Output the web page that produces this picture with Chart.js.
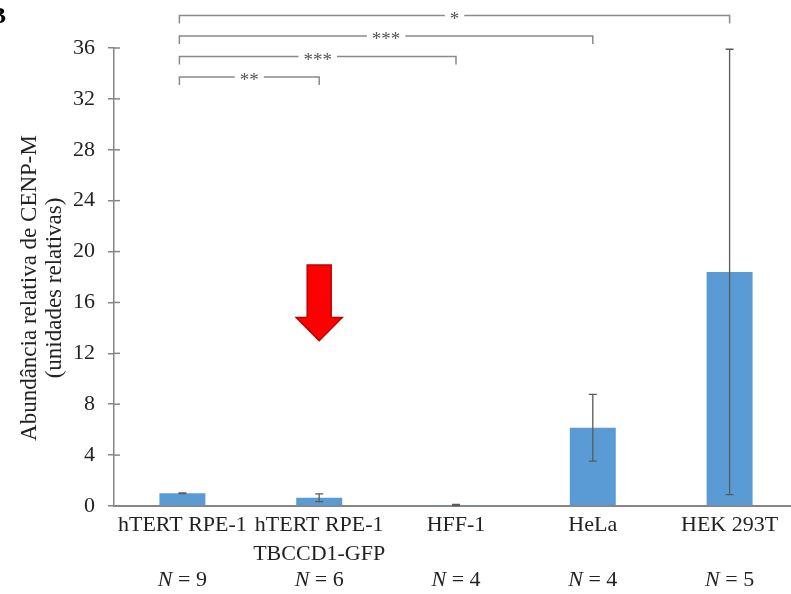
<!DOCTYPE html>
<html>
<head>
<meta charset="utf-8">
<script src="https://cdn.jsdelivr.net/npm/chart.js@4"></script>
<style>
  html, body { margin: 0; padding: 0; background: #fff; overflow: hidden; }
  #wrap { width: 791px; height: 594px; overflow: hidden; position: relative; }
  #cenpChart { display: block; }
</style>
</head>
<body>
<div id="wrap"><canvas id="cenpChart" width="798" height="594"></canvas></div>
<script>
// valores
const cellLines = [['hTERT RPE-1'], ['hTERT RPE-1', 'TBCCD1-GFP'], ['HFF-1'], ['HeLa'], ['HEK 293T']];
const meanAbundance = [1.0, 0.65, 0.08, 6.15, 18.4];
const errorSize = [0.03, 0.3, 0.04, 2.62, 17.5];
const sampleN = [9, 6, 4, 4, 5];
const compFrom = [0, 0, 0, 0];
const compTo = [1, 2, 3, 4];
const compStars = ['**', '***', '***', '*'];
const yTitle = ['Abundância relativa de CENP-M', '(unidades relativas)'];
const arrowCategory = 1;
const arrowTop = 18.95;
const arrowTip = 13.0;
const yMax = 36;
const yStep = 4;

const serif = '"Liberation Serif", "Times New Roman", serif';
const axisGrey = '#868686';

const extrasPlugin = {
    id: 'extras',
    afterDatasetsDraw(chart) {
        const ctx = chart.ctx;
        const x = chart.scales.x;
        const y = chart.scales.y;
        const area = chart.chartArea;

        // marcas das escalas para dentro
        ctx.save();
        ctx.strokeStyle = axisGrey;
        ctx.lineWidth = 1.5;
        for (let v = yStep; v <= yMax; v += yStep) {
            const py = y.getPixelForValue(v);
            ctx.beginPath();
            ctx.moveTo(area.left, py);
            ctx.lineTo(area.left + 6, py);
            ctx.stroke();
        }
        ctx.restore();

        // título do eixo y
        ctx.save();
        ctx.fillStyle = '#222';
        ctx.font = '23px ' + serif;
        ctx.textAlign = 'center';
        ctx.textBaseline = 'middle';
        ctx.translate(30, (area.top + area.bottom) / 2 + 11);
        ctx.rotate(-Math.PI / 2);
        yTitle.forEach((line, i) => ctx.fillText(line, 0, i * 25));
        ctx.restore();

        // barras de erro
        ctx.save();
        ctx.strokeStyle = '#5a5a5a';
        ctx.lineWidth = 1.3;
        meanAbundance.forEach((m, i) => {
            const px = x.getPixelForValue(i);
            const hi = y.getPixelForValue(m + errorSize[i]);
            const lo = y.getPixelForValue(Math.max(m - errorSize[i], 0));
            ctx.beginPath();
            ctx.moveTo(px, hi); ctx.lineTo(px, lo);
            ctx.moveTo(px - 4, hi); ctx.lineTo(px + 4, hi);
            ctx.moveTo(px - 4, lo); ctx.lineTo(px + 4, lo);
            ctx.stroke();
        });
        ctx.restore();

        // seta vermelha
        const ax = x.getPixelForValue(arrowCategory);
        const aTop = y.getPixelForValue(arrowTop);
        const aTip = y.getPixelForValue(arrowTip);
        const headTop = aTip - 23;
        ctx.save();
        ctx.fillStyle = '#ff0000';
        ctx.strokeStyle = '#c00000';
        ctx.lineWidth = 1.5;
        ctx.beginPath();
        ctx.moveTo(ax - 12, aTop);
        ctx.lineTo(ax + 12, aTop);
        ctx.lineTo(ax + 12, headTop);
        ctx.lineTo(ax + 23, headTop);
        ctx.lineTo(ax, aTip);
        ctx.lineTo(ax - 23, headTop);
        ctx.lineTo(ax - 12, headTop);
        ctx.closePath();
        ctx.fill();
        ctx.stroke();
        ctx.restore();

        // colchetes de significância
        ctx.save();
        ctx.strokeStyle = '#8a8a8a';
        ctx.lineWidth = 1.5;
        ctx.font = '19px ' + serif;
        ctx.textAlign = 'center';
        ctx.textBaseline = 'alphabetic';
        compTo.forEach((to, k) => {
            const by = area.top + 29 - k * 20.5;
            const x1 = x.getPixelForValue(compFrom[k]) - 3;
            const x2 = x.getPixelForValue(to);
            ctx.beginPath();
            ctx.moveTo(x1, by + 8); ctx.lineTo(x1, by);
            ctx.lineTo(x2, by); ctx.lineTo(x2, by + 8);
            ctx.stroke();
            const mid = (x1 + x2) / 2;
            const tw = ctx.measureText(compStars[k]).width;
            ctx.fillStyle = '#fff';
            ctx.fillRect(mid - tw / 2 - 5, by - 3, tw + 10, 6);
            ctx.fillStyle = '#555';
            ctx.fillText(compStars[k], mid, by + 9);
        });
        ctx.restore();

        // N por linha celular
        ctx.save();
        ctx.fillStyle = '#222';
        ctx.textBaseline = 'middle';
        sampleN.forEach((n, i) => {
            const px = x.getPixelForValue(i);
            ctx.font = 'italic 22px ' + serif;
            const wN = ctx.measureText('N').width;
            ctx.font = '22px ' + serif;
            const rest = ' = ' + n;
            const wR = ctx.measureText(rest).width;
            const start = px - (wN + wR) / 2;
            ctx.textAlign = 'left';
            ctx.font = 'italic 22px ' + serif;
            ctx.fillText('N', start, 580);
            ctx.font = '22px ' + serif;
            ctx.fillText(rest, start + wN, 580);
        });
        ctx.restore();

        // letra do painel (cortada)
        ctx.save();
        ctx.fillStyle = '#000';
        ctx.font = 'bold 24px ' + serif;
        ctx.textBaseline = 'middle';
        ctx.fillText('B', -10, 17);
        ctx.restore();
    }
};

const ctx = document.getElementById('cenpChart').getContext('2d');
new Chart(ctx, {
    type: 'bar',
    data: {
        labels: cellLines,
        datasets: [{
            label: 'CENP-M',
            data: meanAbundance,
            backgroundColor: '#5b9bd5',
            borderWidth: 0,
            barPercentage: 0.336,
            categoryPercentage: 1.0
        }]
    },
    options: {
        responsive: false,
        animation: false,
        layout: { padding: { top: 48, left: 0, right: 0, bottom: 0 } },
        plugins: {
            legend: { display: false },
            tooltip: { enabled: false }
        },
        scales: {
            x: {
                grid: { display: false, drawTicks: false },
                border: { color: axisGrey, width: 2 },
                ticks: {
                    color: '#222',
                    padding: 5,
                    maxRotation: 0,
                    autoSkip: false,
                    font: { family: serif, size: 22, lineHeight: 1.3 }
                },
                afterFit(scale) { scale.height = 88; }
            },
            y: {
                min: 0,
                max: yMax,
                grid: { drawOnChartArea: false, tickLength: 6, color: axisGrey, lineWidth: 1.5 },
                border: { color: axisGrey, width: 1.5 },
                ticks: {
                    stepSize: yStep,
                    color: '#222',
                    padding: 13,
                    font: { family: serif, size: 22 }
                },
                afterFit(scale) { scale.width = 114; }
            }
        }
    },
    plugins: [extrasPlugin]
});
</script>
</body>
</html>
